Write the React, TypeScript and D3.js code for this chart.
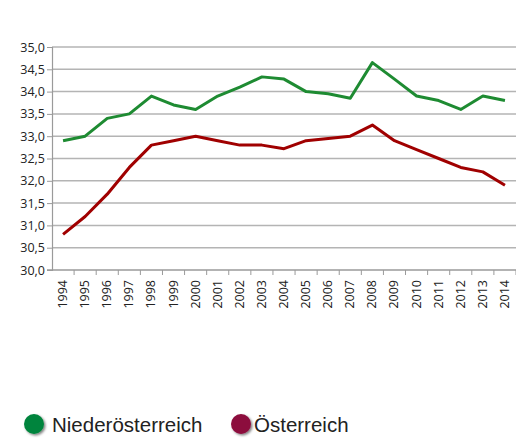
import React, { useRef, useEffect } from 'react';
import * as d3 from 'd3';

const years = ['1994','1995','1996','1997','1998','1999','2000','2001','2002','2003','2004','2005','2006','2007','2008','2009','2010','2011','2012','2013','2014'];
const niederoesterreich = [32.9, 33.0, 33.4, 33.5, 33.9, 33.7, 33.6, 33.9, 34.1, 34.33, 34.28, 34.0, 33.95, 33.85, 34.65, 34.28, 33.9, 33.8, 33.6, 33.9, 33.8];
const oesterreich = [30.8, 31.2, 31.7, 32.3, 32.8, 32.9, 33.0, 32.9, 32.8, 32.8, 32.72, 32.9, 32.95, 33.0, 33.25, 32.9, 32.7, 32.5, 32.3, 32.2, 31.9];
const yTicks = [30, 30.5, 31, 31.5, 32, 32.5, 33, 33.5, 34, 34.5, 35];
const seriesNames = ['Niederösterreich', 'Österreich'];

const App = () => {
  const svgRef = useRef<SVGSVGElement>(null);
  const width = 516;
  const height = 439;
  const margin = { top: 47, right: 0, bottom: 169, left: 52 };

  useEffect(() => {
    const svg = d3.select(svgRef.current);
    svg.selectAll('*').remove();

    const x = d3.scaleBand().domain(years).range([margin.left, width - margin.right]);
    const y = d3.scaleLinear().domain([30, 35]).range([height - margin.bottom, margin.top]);

    const font = '"Open Sans", "Liberation Sans", sans-serif';

    // gridlines
    svg.append('g')
      .selectAll('line')
      .data(yTicks.filter(t => t > 30))
      .join('line')
      .attr('x1', margin.left)
      .attr('x2', width - margin.right)
      .attr('y1', d => y(d))
      .attr('y2', d => y(d))
      .attr('stroke', '#b4b4b4')
      .attr('stroke-width', 1.5);

    // y axis
    const yAxis = svg.append('g')
      .attr('transform', `translate(${margin.left},0)`)
      .call(d3.axisLeft(y).tickValues(yTicks).tickSize(5).tickFormat(d => d3.format('.1f')(d as number).replace('.', ',')));
    yAxis.select('.domain').attr('stroke', '#9a9a9a').attr('stroke-width', 1.2);
    yAxis.selectAll('.tick line').attr('stroke', '#9a9a9a');
    yAxis.selectAll('.tick text')
      .attr('x', -7)
      .attr('fill', '#222')
      .style('font-family', font)
      .style('font-size', '12.5px');

    // x axis
    const y0 = y(30);
    svg.append('line')
      .attr('x1', margin.left - 5).attr('x2', width - margin.right)
      .attr('y1', y0).attr('y2', y0)
      .attr('stroke', '#9a9a9a').attr('stroke-width', 1.5);
    svg.append('g')
      .selectAll('line')
      .data(years)
      .join('line')
      .attr('x1', d => (x(d) as number) + x.bandwidth())
      .attr('x2', d => (x(d) as number) + x.bandwidth())
      .attr('y1', y0).attr('y2', y0 + 5)
      .attr('stroke', '#9a9a9a');
    svg.append('g')
      .selectAll('text')
      .data(years)
      .join('text')
      .attr('transform', d => `translate(${(x(d) as number) + x.bandwidth() / 2 + 4},${y0 + 10}) rotate(-90)`)
      .attr('text-anchor', 'end')
      .attr('fill', '#222')
      .style('font-family', font)
      .style('font-size', '12.5px')
      .text(d => d);

    const line = d3.line<number>()
      .x((_, i) => (x(years[i]) as number) + x.bandwidth() / 2)
      .y(d => y(d));

    svg.append('path')
      .datum(niederoesterreich)
      .attr('d', line)
      .attr('fill', 'none')
      .attr('stroke', '#1e8b32')
      .attr('stroke-width', 3)
      .attr('stroke-linejoin', 'round');

    svg.append('path')
      .datum(oesterreich)
      .attr('d', line)
      .attr('fill', 'none')
      .attr('stroke', '#a00000')
      .attr('stroke-width', 3)
      .attr('stroke-linejoin', 'round');

    // legend
    const defs = svg.append('defs');
    const filter = defs.append('filter').attr('id', 'shadow').attr('x', '-50%').attr('y', '-50%').attr('width', '200%').attr('height', '200%');
    filter.append('feDropShadow').attr('dx', 1.5).attr('dy', 1.5).attr('stdDeviation', 1).attr('flood-color', '#000').attr('flood-opacity', 0.5);

    const legendColors = ['#00843d', '#8c0a3c'];
    const legendX = [34, 241];
    const legendTextX = [52, 254];
    const legend = svg.append('g')
      .selectAll('g')
      .data(seriesNames)
      .join('g');
    legend.append('circle')
      .attr('cx', (_, i) => legendX[i])
      .attr('cy', 424)
      .attr('r', 10)
      .attr('fill', (_, i) => legendColors[i])
      .attr('filter', 'url(#shadow)');
    legend.append('text')
      .attr('x', (_, i) => legendTextX[i])
      .attr('y', 432)
      .attr('fill', '#222')
      .style('font-family', '"Liberation Sans", Arial, sans-serif')
      .style('font-size', '20.5px')
      .text(d => d);
  }, []);

  return (
    <svg ref={svgRef} width={width} height={height} style={{ position: 'absolute', left: 0, top: 0, background: '#fff' }} />
  );
};

export default App;
